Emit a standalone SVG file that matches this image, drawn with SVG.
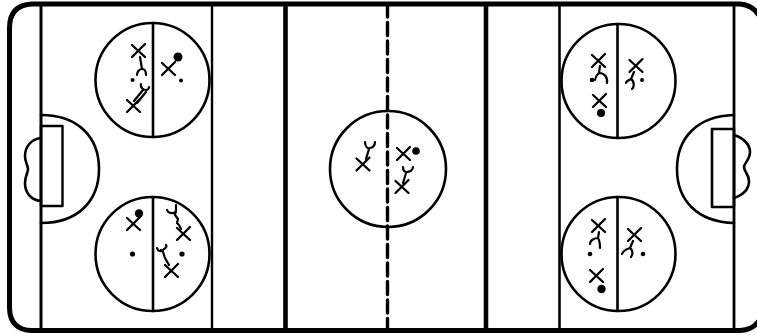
<svg xmlns="http://www.w3.org/2000/svg" width="757" height="335" viewBox="0 0 757 335">
<defs>
<style>
.l{fill:none;stroke:#000;stroke-linecap:round;stroke-linejoin:round}
.c{stroke-width:2.600}
.x{stroke-width:2.300}
.s{stroke-width:2.200}
</style>
<path id="x" class="l x" d="M-7-6 6 6M6-7-7 6"/>
</defs>
<rect width="757" height="335" fill="#fff"/>
<g id="rink">
<path class="l" stroke-width="5" stroke-linecap="butt" d="M758 14Q752 5 740 4H32Q9.500 5 9.500 28V308Q10 330 32 330.500H740Q752 330 758 322"/>
<path class="l" stroke-width="3" d="M41 5V330"/>
<path class="l" stroke-width="2.400" d="M212 5V330"/>
<path class="l" stroke-width="4.600" d="M285.500 5V330"/>
<path class="l" stroke-width="4.600" d="M486 5V330"/>
<path class="l" stroke-width="2.600" d="M559.500 5V330"/>
<path class="l" stroke-width="2.800" d="M734 5V330"/>
<path class="l" stroke-width="3.400" stroke-linecap="butt" stroke-dasharray="13 5.500" d="M387.500 4V330"/>
</g>
<g id="left-crease">
<path class="l c" d="M41 115C78 115 99 137 99 169C99 201 78 223 41 223"/>
<rect class="l" stroke-width="2.400" x="41" y="126" width="21.500" height="80"/>
<path class="l c" d="M41 138C31 139 25 147 25 156C25 163 28 165 28 169C28 173 25 176 25 183C25 193 31 200 41 201"/>
</g>
<g id="right-crease">
<path class="l c" d="M734 115C697 116 677 138 677 169C677 200 697 222 734 223"/>
<rect class="l" stroke-width="2.600" x="712" y="129" width="22" height="78"/>
<path class="l c" d="M734 135C744 138 750 145 750 152C750 160 744 163 744 167C744 172 749 174 749 181C749 189 743 195 734 198"/>
</g>
<g id="circle-top-left">
<circle class="l c" cx="152.500" cy="80" r="57"/>
<path class="l c" d="M153 23V137"/>
<use href="#x" x="139" y="51"/>
<path class="l s" d="M140 57 142 69M137 75C137 71 140 69 142 69C145 69 146 72 146 75"/>
<circle cx="132.500" cy="80" r="2"/>
<use href="#x" x="134" y="106"/>
<path class="l s" d="M134 101 143 90M137 103 146 92M141 84C140 88 144 90 146 90C148 90 149 88 149 87"/>
<use href="#x" x="169" y="69"/>
<circle cx="178" cy="57" r="4.500"/>
<circle cx="181" cy="80.500" r="2"/>
</g>
<g id="circle-bottom-left">
<circle class="l c" cx="152.500" cy="254" r="57"/>
<path class="l c" d="M153 197V311"/>
<circle cx="139" cy="213.500" r="4.200"/>
<use href="#x" x="134" y="224"/>
<circle cx="132.500" cy="254" r="2.600"/>
<use href="#x" x="184" y="234"/>
<path class="l s" d="M181 229 179 225 177 223 178 219 175 215 176 210 176 205M167 210C168 213 172 214 176 212"/>
<circle cx="182" cy="254" r="2.600"/>
<use href="#x" x="172" y="271"/>
<path class="l s" d="M169 265 165 258 163 252 161 250M157 248C158 252 162 252 164 249C166 248 167 246 166 245"/>
</g>
<g id="circle-center">
<circle class="l c" cx="388" cy="169" r="58"/>
<use href="#x" x="363.500" y="164.500"/>
<path class="l s" d="M366 159 369 149M365 142C365 147 368 149 370 148C373 148 375 145 375 142"/>
<use href="#x" x="404" y="154"/>
<circle cx="416" cy="151" r="3.800"/>
<use href="#x" x="402.500" y="187"/>
<path class="l s" d="M403 183 406 173M403 167C403 171 405 172 407 172C410 172 413 170 413 167"/>
</g>
<g id="circle-top-right">
<circle class="l c" cx="618.500" cy="81" r="57"/>
<path class="l c" d="M617.500 24V138"/>
<use href="#x" x="599" y="61"/>
<path class="l s" d="M600 66 599 73C597 75 595 76 595 80M599 73C604 73 608 77 607 83"/>
<circle cx="592" cy="80" r="2.300"/>
<use href="#x" x="600" y="101"/>
<circle cx="601" cy="113" r="4"/>
<use href="#x" x="636.500" y="66"/>
<path class="l s" d="M634 72 631 79C629 80 626 81 626 83M631 79C635 82 634 87 632 89"/>
<circle cx="642" cy="80" r="2"/>
</g>
<g id="circle-bottom-right">
<circle class="l c" cx="618.500" cy="254" r="57"/>
<path class="l c" d="M617.500 197V311"/>
<use href="#x" x="599" y="226"/>
<path class="l s" d="M599 232 598 238C595 238 590 240 590 244M598 238C600 241 600 245 600 248"/>
<circle cx="590" cy="254" r="2.300"/>
<use href="#x" x="597" y="276"/>
<circle cx="601.500" cy="289" r="4.200"/>
<use href="#x" x="635" y="235"/>
<path class="l s" d="M633 241 630 248C627 249 623 251 622 254M630 248C633 250 633 254 631 257"/>
<circle cx="643" cy="254" r="2.300"/>
</g>
</svg>
